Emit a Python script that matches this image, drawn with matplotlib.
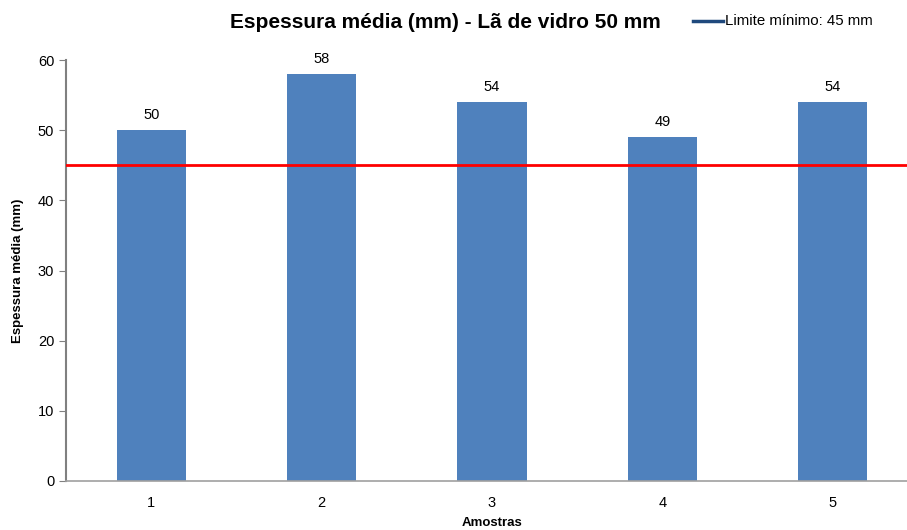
import matplotlib.pyplot as plt

plt.rcParams["font.family"] = ["Liberation Sans", "DejaVu Sans"]

# data
amostras = ["1", "2", "3", "4", "5"]
espessura = [50, 58, 54, 49, 54]
limite_minimo = 45
titulo = "Espessura média (mm) - Lã de vidro 50 mm"

fig = plt.figure(figsize=(9.07, 5.30), dpi=100)
ax = fig.add_axes([66 / 907, 49 / 530, 852 / 907, 421 / 530])

x = range(len(amostras))
bars = ax.bar(x, espessura, width=0.405, color="#4F81BD", zorder=2)
for b, v in zip(bars, espessura):
    ax.text(b.get_x() + b.get_width() / 2, v + 1.1, str(v),
            ha="center", va="bottom", fontsize=10.5)

ax.axhline(limite_minimo, color="#FF0000", linewidth=2, zorder=3)

ax.set_xlim(-0.5, len(amostras) - 0.5)
ax.set_ylim(0, 60)
ax.set_yticks(range(0, 61, 10))
ax.set_xticks(list(x))
ax.set_xticklabels(amostras)
ax.tick_params(axis="x", length=0, pad=11, labelsize=10.5)
ax.tick_params(axis="y", length=5, color="#808080", labelsize=10.5)

for s in ["top", "right"]:
    ax.spines[s].set_visible(False)
ax.spines["left"].set_color("#808080")
ax.spines["left"].set_linewidth(1.5)
ax.spines["bottom"].set_color("#A0A0A0")
ax.spines["bottom"].set_linewidth(1.2)

ax.set_xlabel("Amostras", fontsize=9.5, fontweight="bold", labelpad=5)
ax.set_ylabel("Espessura média (mm)", fontsize=9.5, fontweight="bold", labelpad=10)

fig.text(445 / 907, 1 - 22 / 530, titulo, ha="center", va="center",
         fontsize=15, fontweight="bold")

# legend (line shown dark blue as in the original)
fig.lines.append(plt.Line2D([693 / 907, 723 / 907], [1 - 21 / 530, 1 - 21 / 530],
                            color="#1F497D", linewidth=2.5, transform=fig.transFigure))
fig.text(725 / 907, 1 - 21 / 530, "Limite mínimo: 45 mm", ha="left", va="center",
         fontsize=10.8)

fig.savefig("out.png", dpi=100)
